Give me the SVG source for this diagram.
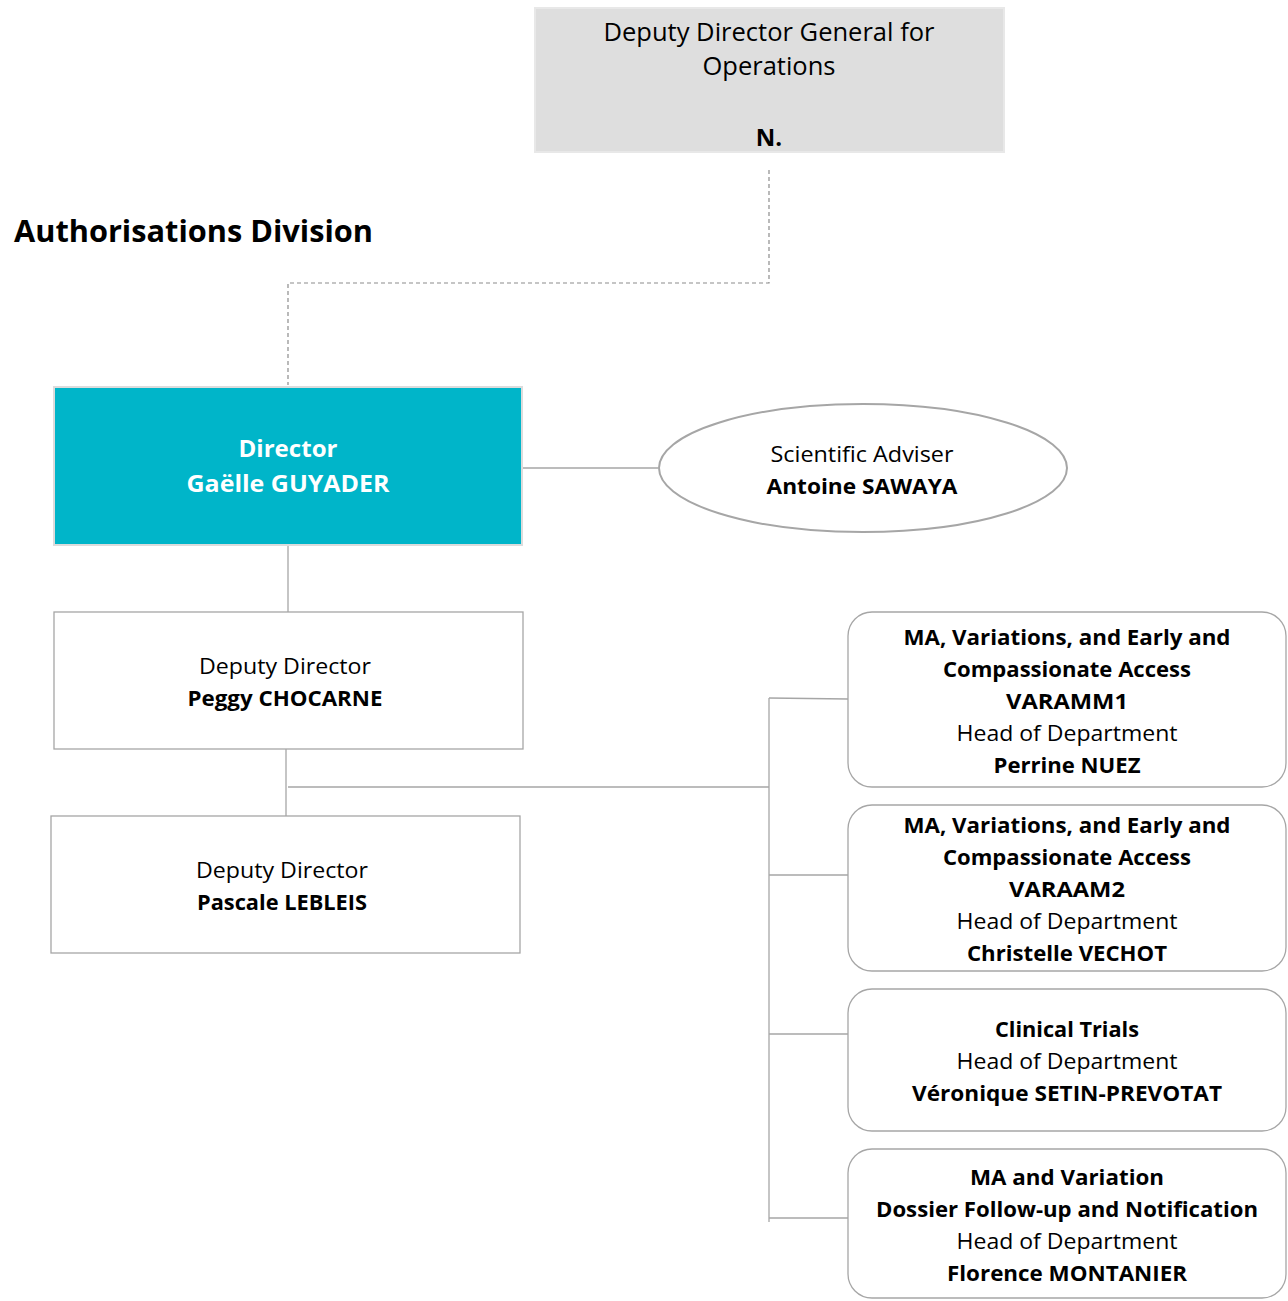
<svg xmlns="http://www.w3.org/2000/svg" width="1288" height="1301" viewBox="0 0 1288 1301">
<style>
text{font-family:"Open Sans","Liberation Sans",sans-serif;fill:#000;text-anchor:middle}
.b{font-weight:bold}
.w{fill:#fff}
.box{fill:#fff;stroke:#a6a6a6;stroke-width:1.3}
.rbox{fill:#fff;stroke:#a6a6a6;stroke-width:1.3}
.con{fill:none;stroke:#a6a6a6;stroke-width:1.3}
.dash{fill:none;stroke:#8c8c8c;stroke-width:1.2;stroke-dasharray:4 3}
.f22{font-size:22px}
</style>
<rect width="1288" height="1301" fill="#fff"/>
<g id="title"><text x="14" y="242" class="b" style="text-anchor:start;font-size:31px" textLength="359" lengthAdjust="spacingAndGlyphs">Authorisations Division</text></g>
<g id="connectors">
<polyline class="dash" points="769,170 769,283 288,283 288,385"/>
<line class="con" x1="522" y1="468" x2="658" y2="468"/>
<line class="con" x1="288" y1="545" x2="288" y2="612"/>
<line class="con" x1="286" y1="749" x2="286" y2="816"/>
<line class="con" x1="288" y1="787" x2="769" y2="787"/>
<line class="con" x1="769" y1="698" x2="769" y2="1222"/>
<line class="con" x1="769" y1="698" x2="848" y2="699"/>
<line class="con" x1="769" y1="875" x2="848" y2="875"/>
<line class="con" x1="769" y1="1034" x2="848" y2="1034"/>
<line class="con" x1="769" y1="1218" x2="848" y2="1218"/>
</g>
<g id="ddg">
<rect x="535" y="8" width="469" height="144" fill="#dedede" stroke="#e8e8e8" stroke-width="2"/>
<text x="769" y="41" style="font-size:25px" textLength="331" lengthAdjust="spacingAndGlyphs">Deputy Director General for</text>
<text x="769" y="75" style="font-size:25px" textLength="133" lengthAdjust="spacingAndGlyphs">Operations</text>
<text x="769" y="146" class="b" style="font-size:24px">N.</text>
</g>
<g id="director">
<rect x="54" y="387" width="468" height="158" fill="#00b5c9" stroke="#dcdcdc" stroke-width="2"/>
<text x="288" y="457" class="b w" style="font-size:24px" textLength="99" lengthAdjust="spacingAndGlyphs">Director</text>
<text x="288" y="492" class="b w" style="font-size:24px" textLength="203" lengthAdjust="spacingAndGlyphs">Gaëlle GUYADER</text>
</g>
<g id="adviser">
<ellipse cx="863" cy="468" rx="204" ry="64" fill="#fff" stroke="#a6a6a6" stroke-width="2"/>
<text x="862" y="462" class="f22" textLength="183" lengthAdjust="spacingAndGlyphs">Scientific Adviser</text>
<text x="862" y="494" class="f22 b" textLength="191" lengthAdjust="spacingAndGlyphs">Antoine SAWAYA</text>
</g>
<g id="deputy1">
<rect class="box" x="54" y="612" width="469" height="137"/>
<text x="285" y="674" class="f22" textLength="172" lengthAdjust="spacingAndGlyphs">Deputy Director</text>
<text x="285" y="706" class="f22 b" textLength="195" lengthAdjust="spacingAndGlyphs">Peggy CHOCARNE</text>
</g>
<g id="deputy2">
<rect class="box" x="51" y="816" width="469" height="137"/>
<text x="282" y="878" class="f22" textLength="172" lengthAdjust="spacingAndGlyphs">Deputy Director</text>
<text x="282" y="910" class="f22 b" textLength="170" lengthAdjust="spacingAndGlyphs">Pascale LEBLEIS</text>
</g>
<g id="varamm1">
<rect class="rbox" x="848" y="612" width="438" height="175" rx="24"/>
<text x="1067" y="645" class="f22 b" textLength="327" lengthAdjust="spacingAndGlyphs">MA, Variations, and Early and</text>
<text x="1067" y="677" class="f22 b" textLength="248" lengthAdjust="spacingAndGlyphs">Compassionate Access</text>
<text x="1067" y="709" class="f22 b" textLength="122" lengthAdjust="spacingAndGlyphs">VARAMM1</text>
<text x="1067" y="741" class="f22" textLength="221" lengthAdjust="spacingAndGlyphs">Head of Department</text>
<text x="1067" y="773" class="f22 b" textLength="147" lengthAdjust="spacingAndGlyphs">Perrine NUEZ</text>
</g>
<g id="varaam2">
<rect class="rbox" x="848" y="805" width="438" height="166" rx="24"/>
<text x="1067" y="833" class="f22 b" textLength="327" lengthAdjust="spacingAndGlyphs">MA, Variations, and Early and</text>
<text x="1067" y="865" class="f22 b" textLength="248" lengthAdjust="spacingAndGlyphs">Compassionate Access</text>
<text x="1067" y="897" class="f22 b" textLength="116" lengthAdjust="spacingAndGlyphs">VARAAM2</text>
<text x="1067" y="929" class="f22" textLength="221" lengthAdjust="spacingAndGlyphs">Head of Department</text>
<text x="1067" y="961" class="f22 b" textLength="200" lengthAdjust="spacingAndGlyphs">Christelle VECHOT</text>
</g>
<g id="clinical">
<rect class="rbox" x="848" y="989" width="438" height="142" rx="24"/>
<text x="1067" y="1037" class="f22 b" textLength="144" lengthAdjust="spacingAndGlyphs">Clinical Trials</text>
<text x="1067" y="1069" class="f22" textLength="221" lengthAdjust="spacingAndGlyphs">Head of Department</text>
<text x="1067" y="1101" class="f22 b" textLength="310" lengthAdjust="spacingAndGlyphs">Véronique SETIN-PREVOTAT</text>
</g>
<g id="dossier">
<rect class="rbox" x="848" y="1149" width="438" height="149" rx="24"/>
<text x="1067" y="1185" class="f22 b" textLength="194" lengthAdjust="spacingAndGlyphs">MA and Variation</text>
<text x="1067" y="1217" class="f22 b" textLength="382" lengthAdjust="spacingAndGlyphs">Dossier Follow-up and Notification</text>
<text x="1067" y="1249" class="f22" textLength="221" lengthAdjust="spacingAndGlyphs">Head of Department</text>
<text x="1067" y="1281" class="f22 b" textLength="240" lengthAdjust="spacingAndGlyphs">Florence MONTANIER</text>
</g>
</svg>
